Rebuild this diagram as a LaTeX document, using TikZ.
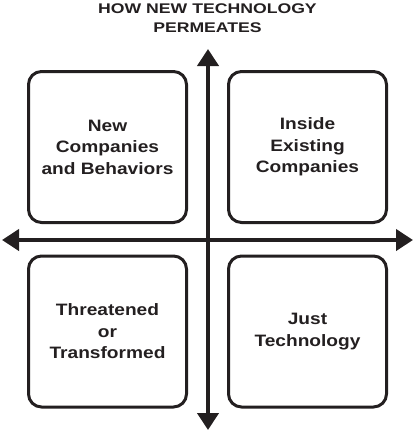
\documentclass[tikz,border=0pt]{standalone}
\usepackage{fontspec}
\setmainfont[FakeStretch=1.16]{Liberation Sans}
\newfontfamily\titlefont[FakeStretch=1.26]{Liberation Sans}
\usetikzlibrary{arrows.meta}
\definecolor{ink}{RGB}{35,31,32}
\begin{document}
\begin{tikzpicture}[x=1pt,y=-1pt,
  quad/.style={draw=ink,line width=3pt,rounded corners=13pt,minimum width=158pt,minimum height=151pt,
    align=center,text=ink,font=\fontsize{16.5}{21.5}\selectfont\bfseries,inner sep=0pt},
  axis/.style={draw=ink,line width=4pt,{Triangle[width=21pt,length=17pt]}-{Triangle[width=21pt,length=17pt]}},
  ttl/.style={text=ink,font=\titlefont\fontsize{14}{19}\selectfont\bfseries,anchor=base,inner sep=0pt}]
\useasboundingbox (0,0) rectangle (415,431);
\node[ttl] (t1) at (207.5,13) {HOW NEW TECHNOLOGY};
\node[ttl] (t2) at (207.5,32) {PERMEATES};
\node[quad] (q1) at (107.5,147) {New\\Companies\\and Behaviors};
\node[quad] (q2) at (307.5,147) {Inside\\Existing\\Companies};
\node[quad] (q3) at (107.5,331.5) {Threatened\\or\\Transformed};
\node[quad] (q4) at (307.5,331.5) {Just\\Technology};
\coordinate (top) at (208,49);
\coordinate (bot) at (208,430);
\coordinate (lft) at (2,240);
\coordinate (rgt) at (413,240);
\draw[axis] (bot) -- (top);
\draw[axis] (lft) -- (rgt);
\end{tikzpicture}
\end{document}
